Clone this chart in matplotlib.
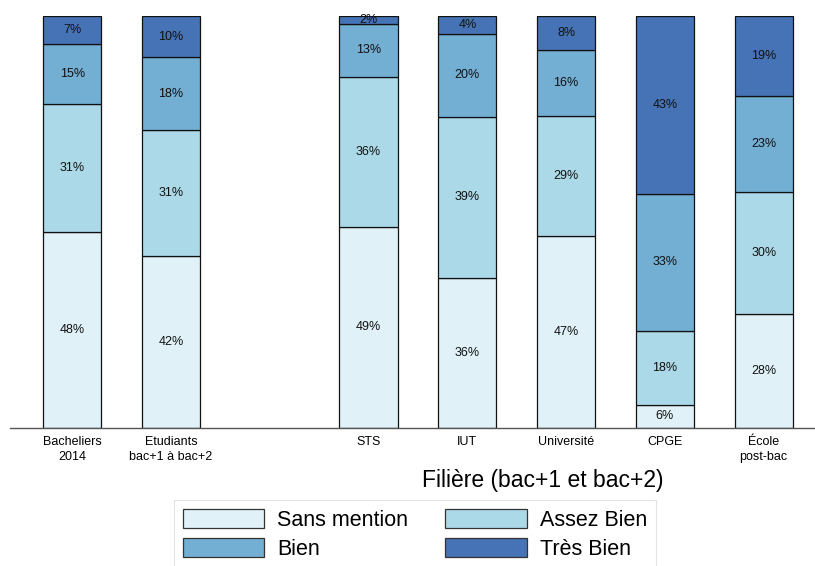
import matplotlib
matplotlib.use("Agg")
import matplotlib.pyplot as plt
from matplotlib.patches import Patch
import numpy as np

plt.rcParams['font.family'] = ['Liberation Sans', 'DejaVu Sans']

categories = ["Bacheliers\n2014", "Etudiants\nbac+1 à bac+2", "STS", "IUT",
              "Université", "CPGE", "École\npost-bac"]
positions = [0, 1, 3, 4, 5, 6, 7]
series_names = ["Sans mention", "Assez Bien", "Bien", "Très Bien"]
sans_mention = [47.6, 41.7, 48.8, 36.4, 46.6, 5.6, 27.7]
assez_bien = [31.1, 30.6, 36.4, 39.2, 29.1, 18.0, 29.6]
bien = [14.6, 17.7, 12.9, 20.0, 16.0, 33.3, 23.3]
tres_bien = [6.7, 10.0, 1.9, 4.4, 8.3, 43.1, 19.4]
colors = ["#e0f2f8", "#acd9e8", "#73aed3", "#4573b5"]
xlabel = "Filière (bac+1 et bac+2)"

fig = plt.figure(figsize=(8.15, 5.66), dpi=100)
ax = fig.add_axes([10/815, (566-428)/566, 805/815, 412/566])

series = [sans_mention, assez_bien, bien, tres_bien]
bottom = np.zeros(len(categories))
for vals, col, name in zip(series, colors, series_names):
    vals = np.array(vals)
    ax.bar(positions, vals, bottom=bottom, width=0.59, color=col,
           edgecolor="#111111", linewidth=0.9, label=name)
    for x, b, v in zip(positions, bottom, vals):
        ax.text(x, b + v/2, f"{round(v)}%", ha="center", va="center",
                fontsize=9, color="#111111")
    bottom += vals

ax.set_xlim(-0.63, 7.52)
ax.set_ylim(0, 100)
ax.set_xticks(positions)
ax.set_xticklabels(categories, fontsize=9, linespacing=1.25)
ax.tick_params(axis="x", length=0, pad=6)
ax.set_yticks([])
for s in ["top", "right", "left"]:
    ax.spines[s].set_visible(False)
ax.spines["bottom"].set_color("#555555")
ax.spines["bottom"].set_linewidth(1.0)

fig.text(543/815, 1 - 480/566, xlabel, ha="center", va="center", fontsize=16.5)

handles = [Patch(facecolor=c, edgecolor="#333333", linewidth=0.9) for c in colors]
order = [0, 2, 1, 3]
leg = fig.legend([handles[i] for i in order], [series_names[i] for i in order],
                 loc="upper left", bbox_to_anchor=(174/815, 1 - 500/566),
                 borderaxespad=0,
                 ncol=2, fontsize=15.5, frameon=True, fancybox=False,
                 handlelength=3.8, handleheight=1.0, columnspacing=1.7,
                 labelspacing=0.35, borderpad=0.4, handletextpad=0.6)
leg.get_frame().set_edgecolor("#dddddd")
leg.get_frame().set_linewidth(0.8)

fig.savefig("out.png", dpi=100)
